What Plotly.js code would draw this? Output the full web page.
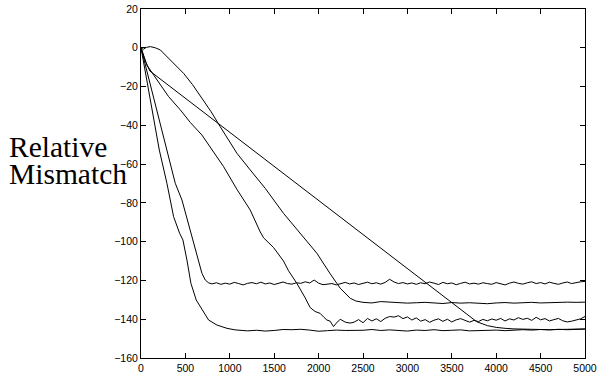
<!DOCTYPE html>
<html>
<head>
<meta charset="utf-8">
<script src="https://cdn.plot.ly/plotly-3.0.1.min.js"></script>
<style>html,body{margin:0;padding:0;background:#fff;}#chart{width:598px;height:377px;}</style>
</head>
<body>
<div id="chart"></div>
<script>
// Series A: fastest convergence, settles near -145.5
const xA = [0,100,206,292,367,435,472,517,562,622,667,705,761,855,968,1060,
  1200,1300,1400,1500,1600,1700,1800,1900,2000,2100,2200,2300,2400,2500,2600,2700,2800,2900,3000,
  3100,3200,3300,3400,3500,3600,3700,3800,3900,4000,4100,4200,4300,4400,4500,4600,4700,4800,4900,5000];
const yA = [0,-25.6,-52.7,-69.9,-87.1,-95.7,-99.1,-109.4,-121.5,-130.1,-133.5,-136.9,-140.4,-143,-144.7,-145.5,
  -146.0,-145.7,-146.1,-145.8,-145.3,-145.4,-145.2,-145.6,-146.2,-145.9,-145.6,-145.8,-145.9,-145.7,-145.3,-145.8,-145.5,-145.9,-146.1,
  -145.6,-145.8,-145.4,-145.9,-145.7,-145.5,-146.0,-145.8,-145.5,-145.6,-145.9,-145.7,-145.4,-145.6,-145.3,-145.5,-145.2,-145.4,-145.3,-145.1];

// Series B: fast convergence, noisy floor near -121.5
const xB = [0,292,386,461,562,686,724,760,
  800,850,900,950,1000,1050,1100,1150,1200,1250,
  1300,1350,1400,1450,1500,1550,1600,1650,1700,1750,
  1800,1850,1900,1950,2000,2050,2100,2150,2200,2250,
  2300,2350,2400,2450,2500,2550,2600,2650,2700,2750,
  2800,2850,2900,2950,3000,3050,3100,3150,3200,3250,
  3300,3350,3400,3450,3500,3550,3600,3650,3700,3750,
  3800,3850,3900,3950,4000,4050,4100,4150,4200,4250,
  4300,4350,4400,4450,4500,4550,4600,4650,4700,4750,
  4800,4850,4900,4950,5000];
const yB = [0,-52.7,-69.9,-78.5,-95.7,-116.3,-119.8,-121.2,
  -121.8,-121.2,-122.0,-121.4,-121.9,-121.0,-121.6,-122.3,-121.5,-121.1,
  -121.7,-120.9,-121.8,-121.3,-122.1,-121.4,-120.8,-121.6,-121.9,-121.2,
  -121.5,-120.7,-121.3,-119.8,-121.4,-122.2,-122.0,-121.6,-122.3,-121.5,
  -121.0,-121.8,-121.3,-122.1,-121.4,-120.9,-121.7,-121.2,-121.9,-121.0,
  -119.4,-120.8,-121.6,-121.1,-121.8,-121.3,-122.0,-121.2,-121.7,-120.8,
  -121.4,-122.1,-121.0,-121.7,-121.3,-122.2,-121.5,-120.9,-121.8,-121.4,
  -121.9,-121.2,-121.6,-122.0,-121.1,-121.7,-122.3,-121.4,-120.8,-121.5,
  -121.9,-121.2,-120.7,-121.6,-121.1,-121.8,-120.9,-121.5,-122.0,-121.3,
  -120.8,-121.6,-121.1,-120.7,-120.5];

// Series C: initial bump, smooth descent, floor near -131.5
const xC = [0,25,60,105,160,217,330,480,580,686,790,892,1080,1230,1399,1605,1800,1981,2130,2243,2356,2420,2500,
  2600,2700,2800,2900,3000,3100,3200,3300,3400,3500,3600,3700,3800,3900,4000,4100,4200,4300,4400,4500,4600,4700,4800,4900,5000];
const yC = [0,-0.8,0.2,0.6,0,-1.1,-6.3,-13.2,-19,-26,-33,-40.7,-54.4,-63,-72.5,-85.4,-96,-106,-116.5,-124,-129.2,-130.6,-131.3,
  -131.6,-130.9,-131.2,-131.4,-131.7,-131.5,-131.3,-131.6,-131.9,-131.4,-131.7,-131.5,-131.8,-132.0,-131.6,-131.4,-131.7,-131.5,-131.3,-131.6,-131.4,-131.5,-131.2,-131.3,-131.2];

// Series D: near-linear descent, floor near -145
const xD = [0,50,100,1000,2000,3000,3500,3781,3900,4000,4100,4200,4400,4600,4800,5000];
const yD = [0,-7,-12,-43.5,-78.5,-113.5,-131,-141.3,-143.3,-144.2,-144.7,-145,-145.2,-145.4,-145.2,-145.0];

// Series E: noisy descent, noisy floor near -140.5
const xE = [0,67,142,311,442,555,686,799,930,1080,1230,1343,1380,1492,1605,1661,1755,1849,1905,1960,2018,2060,2093,2130,2168,2200,2243,2300,2355,
  2400,2450,2500,2550,2600,2650,2700,2750,2800,2850,
  2900,2950,3000,3050,3100,3150,3200,3250,3300,3350,
  3400,3450,3500,3550,3600,3650,3700,3750,3800,3850,
  3900,3950,4000,4050,4100,4150,4200,4250,4300,4350,
  4400,4450,4500,4550,4600,4650,4700,4750,4800,4850,
  4900,4950,5000];
const yE = [0,-9,-14,-25.2,-32,-38.5,-45,-52.7,-61.3,-73,-83.7,-95,-98,-103,-110,-115,-121.5,-129,-134,-136,-137,-139,-140.4,-141,-143.8,-142,-140,-141.5,-142,
  -141.5,-140.2,-141.8,-139.6,-140.9,-139.8,-141.2,-139.5,-138.6,-138.9,
  -138.2,-139.7,-138.8,-140.4,-139.3,-141.0,-140.2,-141.6,-140.5,-139.8,
  -141.1,-140.0,-141.4,-140.3,-139.7,-140.8,-141.5,-140.6,-141.2,-140.1,
  -140.8,-139.9,-140.5,-139.6,-140.9,-139.8,-140.4,-139.2,-140.1,-139.5,
  -140.6,-139.0,-140.3,-139.7,-140.9,-140.2,-139.6,-140.8,-141.4,-141.0,
  -140.5,-139.8,-138.6];

const xTicks = [0,500,1000,1500,2000,2500,3000,3500,4000,4500,5000];
const yTicks = [-160,-140,-120,-100,-80,-60,-40,-20,0,20];
const titleLines = ["Relative", "Mismatch"];

const series = [[xA,yA],[xB,yB],[xC,yC],[xD,yD],[xE,yE]];
const traces = series.map(s => ({
  x: s[0], y: s[1], type: 'scatter', mode: 'lines',
  line: {color: '#000', width: 1}, hoverinfo: 'skip'
}));

const axisCommon = {
  showline: true, linecolor: '#000', linewidth: 1, mirror: 'ticks',
  ticks: 'inside', ticklen: 5, tickcolor: '#000', tickwidth: 1,
  showgrid: false, zeroline: false,
  tickfont: {family: 'Liberation Sans, Arial, sans-serif', size: 10.5, color: '#000'}
};

const layout = {
  width: 598, height: 377,
  margin: {l: 141, r: 13, t: 9, b: 19},
  paper_bgcolor: '#fff', plot_bgcolor: '#fff',
  showlegend: false,
  xaxis: Object.assign({}, axisCommon, {range: [0,5000], tickvals: xTicks, ticktext: xTicks.map(String)}),
  yaxis: Object.assign({}, axisCommon, {range: [-160,20], tickvals: yTicks}),
  annotations: [
    {text: titleLines[0], xref: 'paper', yref: 'paper', x: -0.302, y: 0.604, xanchor: 'left', yanchor: 'middle',
     showarrow: false, font: {family: 'Liberation Serif, serif', size: 29.5, color: '#000'}},
    {text: titleLines[1], xref: 'paper', yref: 'paper', x: -0.302, y: 0.528, xanchor: 'left', yanchor: 'middle',
     showarrow: false, font: {family: 'Liberation Serif, serif', size: 29.5, color: '#000'}}
  ]
};

Plotly.newPlot('chart', traces, layout, {staticPlot: true, displayModeBar: false});
</script>
</body>
</html>
